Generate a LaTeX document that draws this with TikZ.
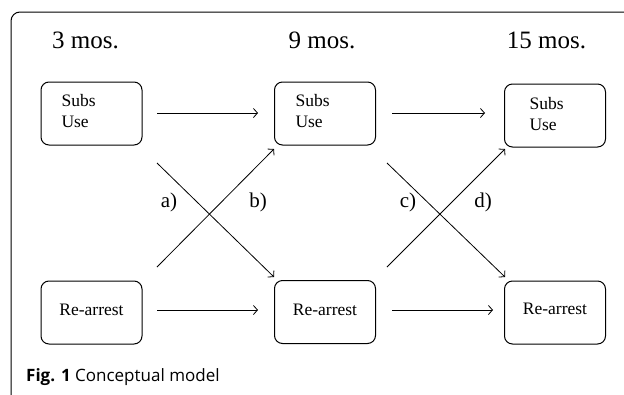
\documentclass[tikz,border=0pt]{standalone}
\usepackage{fontspec}
\setmainfont{Liberation Serif}
\newfontfamily\capfont{Open Sans}
\usetikzlibrary{arrows.meta}
\begin{document}
\begin{tikzpicture}[x=1pt,y=-1pt,
  box/.style={draw,line width=1pt,rounded corners=8pt,minimum width=101pt,minimum height=63pt,inner sep=0pt},
  lab/.style={font=\fontsize{17.5}{21}\selectfont,align=left},
  hdr/.style={font=\fontsize{25}{30}\selectfont},
  conn/.style={line width=0.8pt,-{Straight Barb[length=4pt,width=9pt]}},
  ltr/.style={font=\fontsize{21}{25}\selectfont}]
\useasboundingbox (0,0) rectangle (624,394);
\begin{scope}
\clip (0,0) rectangle (624,394);
\draw[line width=1pt,rounded corners=9pt] (11,12) rectangle (660,420);
\end{scope}
\node[hdr] (h1) at (85.5,40) {3 mos.};
\node[hdr] (h2) at (322,40) {9 mos.};
\node[hdr] (h3) at (546.5,40) {15 mos.};
% boxes
\node[box] (s1) at (91.5,113.5) {};
\node[box] (s2) at (325,113.5) {};
\node[box] (s3) at (555,115.5) {};
\node[box] (r1) at (91.5,312.5) {};
\node[box] (r2) at (325,312) {};
\node[box] (r3) at (555,312.5) {};
\node[lab,anchor=west] (ts1) at (58,111) {Subs\\Use};
\node[lab,anchor=west] (ts2) at (292,111) {Subs\\Use};
\node[lab,anchor=west] (ts3) at (526,114) {Subs\\Use};
\node[lab] (tr1) at (91.5,310) {Re-arrest};
\node[lab] (tr2) at (325,310) {Re-arrest};
\node[lab] (tr3) at (555,309) {Re-arrest};
% connector endpoints
\coordinate (a1) at (157,113); \coordinate (a2) at (258,113);
\coordinate (b1) at (392,113); \coordinate (b2) at (485,113);
\coordinate (c1) at (157,310); \coordinate (c2) at (258,310);
\coordinate (d1) at (392,310); \coordinate (d2) at (493,310);
\coordinate (xa1) at (157,163); \coordinate (xa2) at (274,277);
\coordinate (xb1) at (157,267); \coordinate (xb2) at (274,149);
\coordinate (xc1) at (387,163); \coordinate (xc2) at (505,277);
\coordinate (xd1) at (387,267); \coordinate (xd2) at (505,149);
\draw[conn] (a1) -- (a2);
\draw[conn] (b1) -- (b2);
\draw[conn] (c1) -- (c2);
\draw[conn] (d1) -- (d2);
\draw[conn] (xa1) -- (xa2);
\draw[conn] (xb1) -- (xb2);
\draw[conn] (xc1) -- (xc2);
\draw[conn] (xd1) -- (xd2);
\node[ltr] (la) at (169,202) {a)};
\node[ltr] (lb) at (258,202) {b)};
\node[ltr] (lc) at (408,202) {c)};
\node[ltr] (ld) at (483,202) {d)};
\node[anchor=west,font=\capfont\fontsize{17}{20}\selectfont,inner sep=0pt] (cap) at (26,377) {\textbf{Fig. 1} Conceptual model};
\end{tikzpicture}
\end{document}
